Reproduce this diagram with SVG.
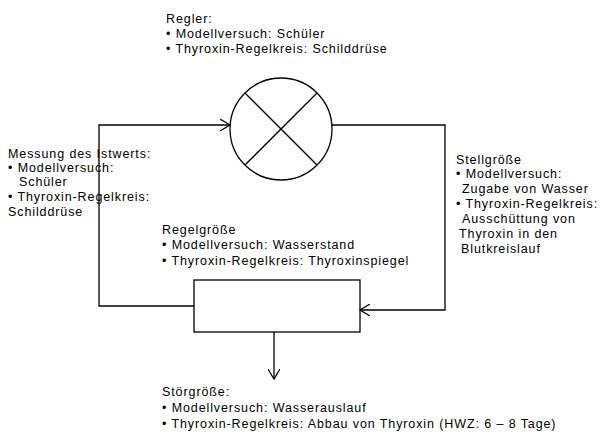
<svg xmlns="http://www.w3.org/2000/svg" width="600" height="443" viewBox="0 0 600 443">
<style>
text{font-family:"Liberation Sans",Arial,sans-serif;font-size:12.5px;letter-spacing:0.9px;fill:#000}
.s{fill:none;stroke:#000;stroke-width:1.3}
</style>
<defs><marker id="a" markerWidth="12" markerHeight="12" refX="10" refY="6" orient="auto" markerUnits="userSpaceOnUse"><path d="M0,0 L10,6 L0,12" fill="none" stroke="#000" stroke-width="1.2"/></marker></defs>
<rect width="600" height="443" fill="#fff"/>
<g id="regler"><circle class="s" cx="281" cy="129" r="51"/><line class="s" x1="245" y1="93" x2="317" y2="165"/><line class="s" x1="317" y1="93" x2="245" y2="165"/></g>
<g id="strecke"><rect class="s" x="194" y="280" width="166" height="52"/></g>
<g id="connectors">
<polyline class="s" points="194,306 99,306 99,125 230,125" marker-end="url(#a)"/>
<polyline class="s" points="332,125 445,125 445,310 360,310" marker-end="url(#a)"/>
<line class="s" x1="274" y1="332" x2="274" y2="379" marker-end="url(#a)"/>
</g>
<g id="t1"><text x="166" y="23">Regler:</text><text x="166" y="38">• Modellversuch: Schüler</text><text x="166" y="53">• Thyroxin-Regelkreis: Schilddrüse</text></g>
<g id="t2"><text x="8" y="158">Messung des Istwerts:</text><text x="8" y="172">• Modellversuch:</text><text x="19" y="186">Schüler</text><text x="8" y="201">• Thyroxin-Regelkreis:</text><text x="8" y="216">Schilddrüse</text></g>
<g id="t3"><text x="456" y="164">Stellgröße</text><text x="456" y="178">• Modellversuch:</text><text x="462" y="193">Zugabe von Wasser</text><text x="456" y="208">• Thyroxin-Regelkreis:</text><text x="462" y="223">Ausschüttung von</text><text x="459" y="238">Thyroxin in den</text><text x="461" y="253">Blutkreislauf</text></g>
<g id="t4"><text x="162" y="234">Regelgröße</text><text x="162" y="249">• Modellversuch: Wasserstand</text><text x="162" y="265">• Thyroxin-Regelkreis: Thyroxinspiegel</text></g>
<g id="t5"><text x="162" y="396">Störgröße:</text><text x="162" y="412">• Modellversuch: Wasserauslauf</text><text x="162" y="428">• Thyroxin-Regelkreis: Abbau von Thyroxin (HWZ: 6 – 8 Tage)</text></g>
</svg>
